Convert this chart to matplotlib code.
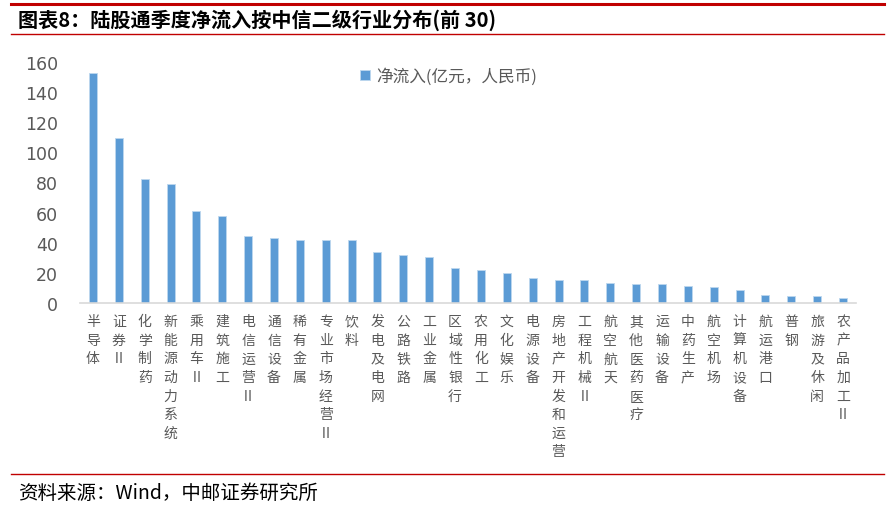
import matplotlib
matplotlib.use("Agg")
import matplotlib.pyplot as plt
from matplotlib.lines import Line2D

plt.rcParams['font.family'] = ['Noto Sans CJK SC', 'DejaVu Sans']

# data
industries = ['半导体', '证券Ⅱ', '化学制药', '新能源动力系统', '乘用车Ⅱ', '建筑施工',
              '电信运营Ⅱ', '通信设备', '稀有金属', '专业市场经营Ⅱ', '饮料', '发电及电网',
              '公路铁路', '工业金属', '区域性银行', '农用化工', '文化娱乐', '电源设备',
              '房地产开发和运营', '工程机械Ⅱ', '航空航天', '其他医药医疗', '运输设备',
              '中药生产', '航空机场', '计算机设备', '航运港口', '普钢', '旅游及休闲',
              '农产品加工Ⅱ']
net_inflow = [152.5, 109.4, 82.3, 79.0, 61.1, 57.6, 44.7, 43.2, 42.0, 41.8, 41.6,
              33.7, 31.9, 30.3, 23.5, 21.7, 19.7, 16.4, 15.1, 15.1, 13.3, 12.8,
              12.8, 11.5, 10.4, 8.6, 5.1, 4.4, 4.4, 3.1]
yticks = [0, 20, 40, 60, 80, 100, 120, 140, 160]

gray = '#595959'
fig = plt.figure(figsize=(8.95, 5.10), dpi=100)
ax = fig.add_axes([80/895, 1-304/510, 776/895, 241/510])

x = list(range(len(industries)))
ax.bar(x, net_inflow, width=0.31, color='#5B9BD5', edgecolor='#BDD7EE',
       linewidth=0.6, label='净流入(亿元，人民币)')
ax.set_xlim(-0.5, len(industries) - 0.5)
ax.set_ylim(0, 160)
ax.set_yticks(yticks)
ax.set_yticklabels([str(v) for v in yticks], fontsize=12.5, color=gray,
                   family=['DejaVu Sans'])
ax.set_xticks(x)
ax.set_xticklabels(['\n'.join(s) for s in industries], fontsize=10, color=gray,
                   va='top', linespacing=1.42)
ax.tick_params(axis='both', length=0)
ax.tick_params(axis='x', pad=8)
ax.tick_params(axis='y', pad=16)
for side in ['top', 'right', 'left']:
    ax.spines[side].set_visible(False)
ax.spines['bottom'].set_color('#D9D9D9')
ax.spines['bottom'].set_linewidth(1.2)

leg = ax.legend(loc='upper center', bbox_to_anchor=(0.475, 1.04), frameon=False,
                fontsize=12, handlelength=0.6, handleheight=0.6, handletextpad=0.4)
for t in leg.get_texts():
    t.set_color(gray)

# title, footer and red rules
fig.add_artist(Line2D([0.012, 0.988], [1-5/510, 1-5/510], color='#C00000', lw=2.2))
fig.add_artist(Line2D([0.012, 0.988], [1-35/510, 1-35/510], color='#C00000', lw=1.0))
fig.add_artist(Line2D([0.012, 0.988], [1-475/510, 1-475/510], color='#C00000', lw=1.0))
fig.text(18/895, 1-20/510, '图表8：陆股通季度净流入按中信二级行业分布(前 30)',
         fontsize=14.5, fontweight='bold', va='center', ha='left', color='black')
fig.text(18/895, 1-493/510, '资料来源：Wind，中邮证券研究所',
         fontsize=14, va='center', ha='left', color='black')

fig.savefig('out.png', dpi=100)
